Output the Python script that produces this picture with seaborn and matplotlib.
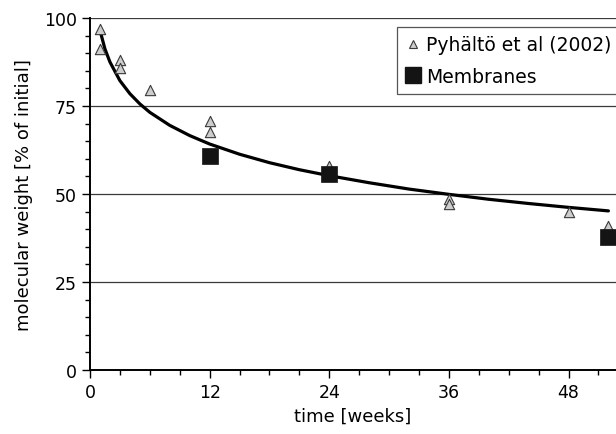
import matplotlib
import numpy as np
import pandas as pd
import seaborn as sns

matplotlib.use("Agg")
import matplotlib.pyplot as plt
from matplotlib.lines import Line2D
from matplotlib.ticker import MultipleLocator

# data
lit_weeks = [1, 1, 3, 3, 6, 12, 12, 24, 36, 36, 48, 52]
lit_mw = [96.9, 91.2, 88.2, 85.7, 79.6, 70.8, 67.5, 58.0, 48.6, 47.3, 44.9, 40.9]

mem_weeks = [12, 24, 52]
mem_mw = [60.7, 55.7, 37.8]

trend_weeks = [1, 1.5, 2, 3, 4, 5, 6, 8, 10, 12, 15, 18, 21, 24, 28, 32, 36, 40, 44, 48, 52]
trend_mw = [96.5, 91.2, 87.5, 82.2, 78.5, 75.6, 73.2, 69.5, 66.6, 64.2, 61.3, 58.9,
            56.9, 55.2, 53.2, 51.4, 49.9, 48.5, 47.3, 46.2, 45.2]

x_ticks = [0, 12, 24, 36, 48]
y_ticks = [0, 25, 50, 75, 100]

sns.set_theme(style="ticks")
plt.rcParams["font.family"] = ["DejaVu Sans"]
plt.rcParams["text.color"] = "black"

fig = plt.figure(figsize=(6.16, 4.35), dpi=100)
ax = fig.add_axes([90 / 616, 64 / 435, 1 - 90 / 616, 352 / 435])

trend = pd.DataFrame({"week": trend_weeks, "mw": trend_mw})
lit = pd.DataFrame({"week": lit_weeks, "mw": lit_mw})
mem = pd.DataFrame({"week": mem_weeks, "mw": mem_mw})

for y in y_ticks[1:]:
    ax.axhline(y, color="#3a3a3a", lw=0.9, zorder=0)

sns.lineplot(data=trend, x="week", y="mw", ax=ax, color="black", lw=2.3, zorder=2)
sns.scatterplot(data=lit, x="week", y="mw", ax=ax, marker="^", s=55,
                color="#cdcdcd", edgecolor="#3a3a3a", linewidth=0.8, zorder=3)
sns.scatterplot(data=mem, x="week", y="mw", ax=ax, marker="s", s=125,
                color="#141414", edgecolor="#141414", linewidth=0.5, zorder=4)

ax.set_xlim(0, 52.76)
ax.set_ylim(0, 100)
ax.set_xticks(x_ticks)
ax.set_yticks(y_ticks)
ax.xaxis.set_minor_locator(MultipleLocator(3))
ax.yaxis.set_minor_locator(MultipleLocator(5))
ax.tick_params(which="major", length=5.5, width=1, color="black", labelsize=12.5,
               labelcolor="black", pad=4)
ax.tick_params(which="minor", length=3.5, width=1, color="black")

for side in ["top", "right"]:
    ax.spines[side].set_visible(False)
for side in ["left", "bottom"]:
    ax.spines[side].set_color("black")
    ax.spines[side].set_linewidth(1.4)

ax.set_xlabel("time [weeks]", fontsize=13, color="black", labelpad=4)
ax.set_ylabel("molecular weight [% of initial]", fontsize=13, color="black", labelpad=8)

handles = [
    Line2D([], [], marker="^", ls="none", markersize=6, markerfacecolor="#cdcdcd",
           markeredgecolor="#3a3a3a", markeredgewidth=0.8),
    Line2D([], [], marker="s", ls="none", markersize=11, markerfacecolor="#141414",
           markeredgecolor="#141414"),
]
leg = ax.legend(handles, ["Pyhältö et al (2002)", "Membranes"], loc="upper left",
                bbox_to_anchor=(397 / 616, 1 - 28 / 435), bbox_transform=fig.transFigure,
                fontsize=13.5, frameon=True, fancybox=False, framealpha=1,
                handlelength=0.8, handletextpad=0.3, borderpad=0.45,
                labelspacing=0.65, borderaxespad=0)
leg.get_frame().set_edgecolor("#555555")
leg.get_frame().set_linewidth(0.9)

plt.savefig("out.png", dpi=100)
plt.close("all")
